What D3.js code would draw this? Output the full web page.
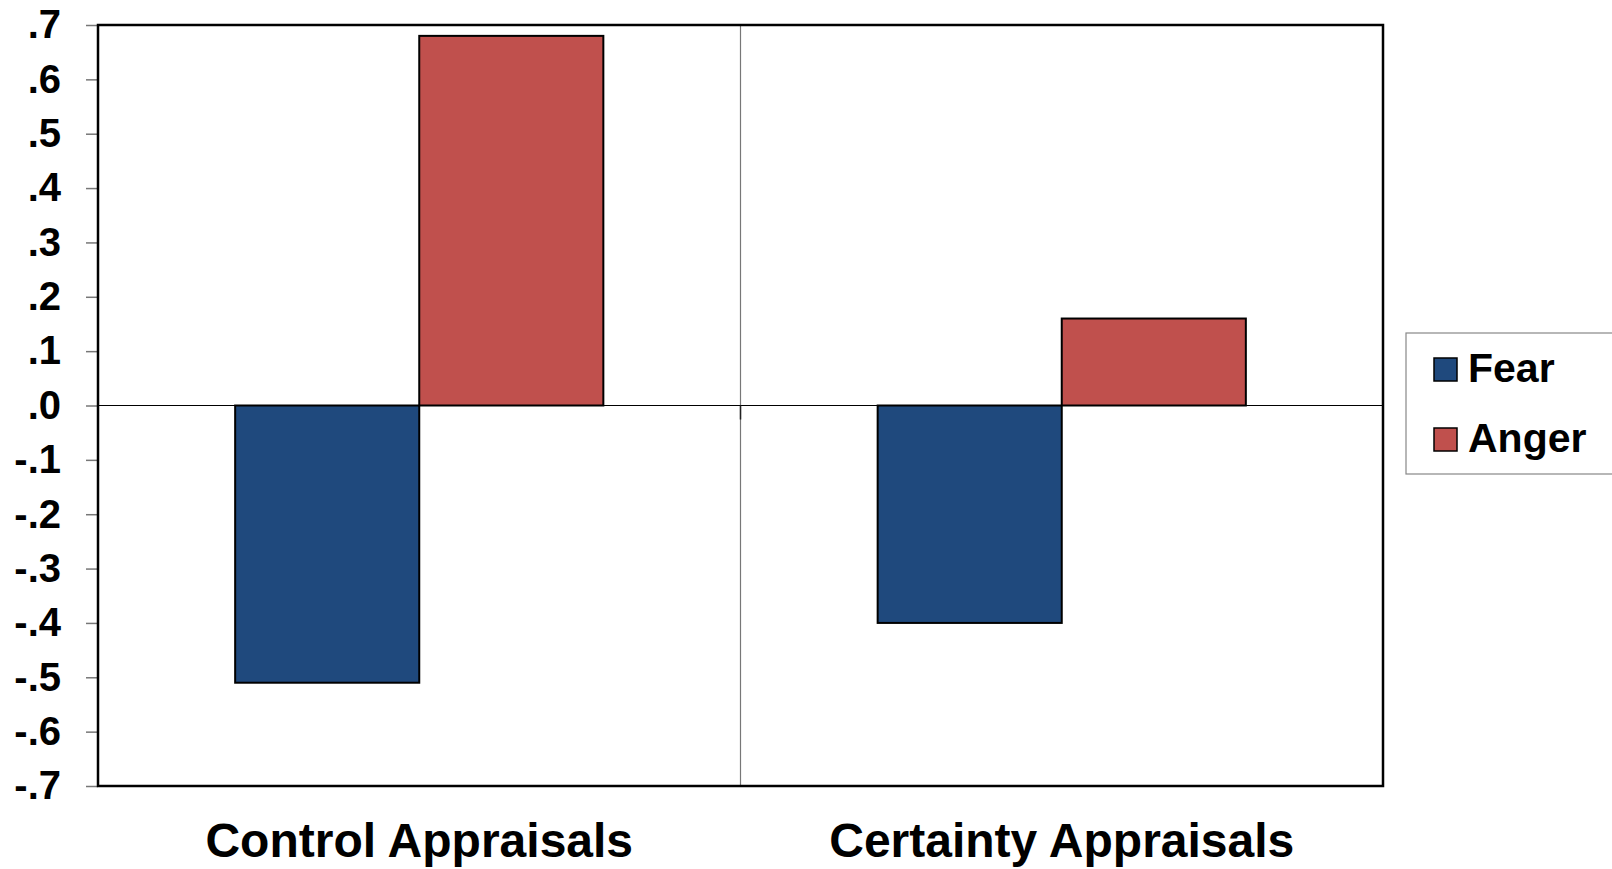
<!DOCTYPE html>
<html>
<head>
<meta charset="utf-8">
<script src="https://cdn.jsdelivr.net/npm/d3@7"></script>
<style>
  html, body { margin: 0; padding: 0; background: #fff; }
  svg { display: block; font-family: "Liberation Sans", Arial, sans-serif; font-weight: bold; }
</style>
</head>
<body>
<div id="chart"></div>
<script>
const categories = ["Control Appraisals", "Certainty Appraisals"];
const seriesNames = ["Fear", "Anger"];
const fearValues = [-0.51, -0.40];
const angerValues = [0.68, 0.16];
const seriesColors = ["#1F497D", "#C0504D"];
const yTicks = [-0.7, -0.6, -0.5, -0.4, -0.3, -0.2, -0.1, 0, 0.1, 0.2, 0.3, 0.4, 0.5, 0.6, 0.7];

const W = 1612, H = 869;
const plot = { left: 98, top: 25, right: 1383, bottom: 786 };

const svg = d3.select("#chart").append("svg")
    .attr("width", W)
    .attr("height", H);

const y = d3.scaleLinear().domain([-0.7, 0.7]).range([plot.bottom, plot.top]);

const x0 = d3.scaleBand()
    .domain(categories)
    .range([plot.left, plot.right])
    .padding(0);

const x1 = d3.scaleBand()
    .domain(seriesNames)
    .range([0, x0.bandwidth()])
    .paddingInner(0)
    .paddingOuter(0.745);

// tick labels like ".7", "-.3", ".0"
const fmt = v => {
    const s = Math.abs(v).toFixed(1).replace(/^0/, "");
    return (v < -1e-9 ? "-" : "") + s;
};

// y axis
const yAxis = svg.append("g")
    .attr("transform", `translate(${plot.left},0)`)
    .call(d3.axisLeft(y).tickValues(yTicks).tickSize(12).tickPadding(25).tickFormat(fmt));
yAxis.select(".domain").remove();
yAxis.selectAll(".tick line").attr("stroke", "#777").attr("stroke-width", 1.5);
yAxis.selectAll(".tick text")
    .attr("fill", "#000")
    .style("font-size", "40px")
    .style("font-family", "'Liberation Sans', Arial, sans-serif")
    .style("font-weight", "bold");

// divider between categories
svg.append("line")
    .attr("x1", x0(categories[1])).attr("x2", x0(categories[1]))
    .attr("y1", plot.top).attr("y2", plot.bottom)
    .attr("stroke", "#777").attr("stroke-width", 1.2);

// bars
const rows = categories.map((c, i) => ({ cat: c, values: [fearValues[i], angerValues[i]] }));
const groups = svg.append("g").selectAll("g")
    .data(rows)
    .join("g")
    .attr("transform", d => `translate(${x0(d.cat)},0)`);

groups.selectAll("rect")
    .data(d => d.values.map((v, j) => ({ name: seriesNames[j], value: v, color: seriesColors[j] })))
    .join("rect")
    .attr("x", d => x1(d.name))
    .attr("width", x1.bandwidth())
    .attr("y", d => y(Math.max(0, d.value)))
    .attr("height", d => Math.abs(y(d.value) - y(0)))
    .attr("fill", d => d.color)
    .attr("stroke", "#000")
    .attr("stroke-width", 2);

// zero line
svg.append("line")
    .attr("x1", plot.left).attr("x2", plot.right)
    .attr("y1", y(0)).attr("y2", y(0))
    .attr("stroke", "#000").attr("stroke-width", 1.2);

// category tick on the zero axis
svg.append("line")
    .attr("x1", x0(categories[1])).attr("x2", x0(categories[1]))
    .attr("y1", y(0)).attr("y2", y(0) + 14)
    .attr("stroke", "#222").attr("stroke-width", 1.5);

// plot border
svg.append("rect")
    .attr("x", plot.left).attr("y", plot.top)
    .attr("width", plot.right - plot.left).attr("height", plot.bottom - plot.top)
    .attr("fill", "none").attr("stroke", "#000").attr("stroke-width", 2.5);

// category labels
svg.append("g").selectAll("text")
    .data(categories)
    .join("text")
    .attr("x", d => x0(d) + x0.bandwidth() / 2)
    .attr("y", 857)
    .attr("text-anchor", "middle")
    .style("font-size", "48px")
    .text(d => d);

// legend
const legend = svg.append("g").attr("transform", "translate(1406,333)");
legend.append("rect")
    .attr("x", 0).attr("y", 0)
    .attr("width", 230).attr("height", 141)
    .attr("fill", "#fff").attr("stroke", "#888").attr("stroke-width", 1.2);

const items = legend.selectAll("g.item")
    .data(seriesNames)
    .join("g")
    .attr("class", "item")
    .attr("transform", (d, i) => `translate(0,${i * 70})`);

items.append("rect")
    .attr("x", 28).attr("y", 25)
    .attr("width", 23).attr("height", 23)
    .attr("fill", (d, i) => seriesColors[i])
    .attr("stroke", "#000").attr("stroke-width", 1.5);

items.append("text")
    .attr("x", 62).attr("y", 49)
    .style("font-size", "41px")
    .text(d => d);
</script>
</body>
</html>
